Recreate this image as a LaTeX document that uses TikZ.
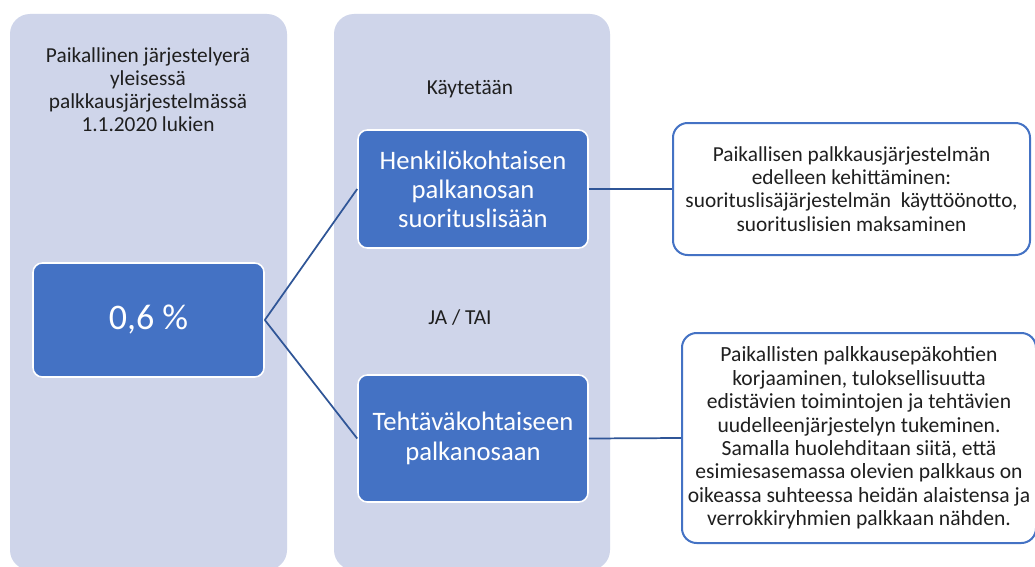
\documentclass[tikz,border=0pt]{standalone}
\usepackage{fontspec}
\setmainfont{Carlito}
\definecolor{colfill}{HTML}{CFD5EA}
\definecolor{boxblue}{HTML}{4472C4}
\definecolor{connblue}{HTML}{2F5597}
\definecolor{txt}{HTML}{1F1F1F}
\begin{document}
\begin{tikzpicture}[x=0.75pt,y=-0.75pt,
  column/.style={rectangle, rounded corners=15pt, fill=colfill, draw=none, inner sep=0pt},
  bluebox/.style={rectangle, rounded corners=7pt, fill=boxblue, draw=white, line width=1.2pt, text=white, align=center, inner sep=0pt},
  whitebox/.style={rectangle, rounded corners=11pt, fill=white, draw=boxblue, line width=1.5pt, text=txt, align=center, inner sep=0pt},
  label/.style={text=txt, align=center, inner sep=0pt},
  conn/.style={draw=connblue, line width=1.3pt}]
\useasboundingbox (0,0) rectangle (1035,567);
\fill[white] (0,0) rectangle (1035,567);
% columns
\node[column, minimum width=207.75pt, minimum height=417pt] (col1) at (148.5,292) {};
\node[column, minimum width=207pt, minimum height=417pt] (col2) at (472,292) {};
% column texts
\node[label, font=\fontsize{16}{17.25}\selectfont] (toptext) at (148,90) {Paikallinen järjestelyerä\\yleisessä\\palkkausjärjestelmässä\\1.1.2020 lukien};
\node[label, font=\fontsize{16}{17.25}\selectfont] (kayt) at (470,89) {Käytetään};
\node[label, font=\fontsize{16}{17.25}\selectfont] (jatai) at (460,318) {JA / TAI};
% blue boxes
\node[bluebox, minimum width=173.25pt, minimum height=85.5pt, font=\fontsize{27}{32}\selectfont] (pct) at (148.5,320) {0,6 \%};
\node[bluebox, minimum width=172.5pt, minimum height=88.5pt, font=\fontsize{20}{21.75}\selectfont] (henk) at (473,189) {Henkilökohtaisen\\palkanosan\\suorituslisään};
\node[bluebox, minimum width=172.5pt, minimum height=95.25pt, font=\fontsize{20}{22.5}\selectfont] (teht) at (473,438.5) {Tehtäväkohtaiseen\\palkanosaan};
% white boxes
\node[whitebox, minimum width=267.75pt, minimum height=99pt, font=\fontsize{16}{17.5}\selectfont] (r1) at (851.5,189) {Paikallisen palkkausjärjestelmän\\edelleen kehittäminen:\\suorituslisäjärjestelmän\ \ käyttöönotto,\\suorituslisien maksaminen};
\node[whitebox, minimum width=265.5pt, minimum height=157.5pt, font=\fontsize{16.2}{17.6}\selectfont] (r2) at (859,438) {Paikallisten palkkausepäkohtien\\korjaaminen, tuloksellisuutta\\edistävien toimintojen ja tehtävien\\uudelleenjärjestelyn tukeminen.\\Samalla huolehditaan siitä, että\\esimiesasemassa olevien palkkaus on\\oikeassa suhteessa heidän alaistensa ja\\verrokkiryhmien palkkaan nähden.};
% connectors
\draw[conn] (pct.east) -- (henk.west);
\draw[conn] (pct.east) -- (teht.west);
\draw[conn] (henk.east) -- (r1.west);
\draw[conn] (teht.east) -- (r2.west);
\end{tikzpicture}
\end{document}
